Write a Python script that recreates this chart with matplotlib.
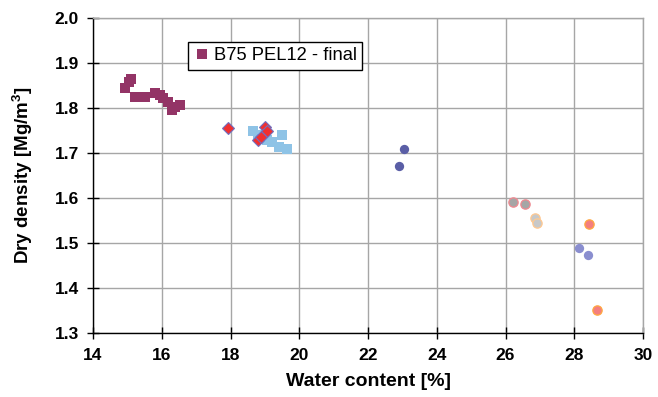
import matplotlib
matplotlib.use("Agg")
import matplotlib.pyplot as plt

plt.rcParams['font.family'] = ['Liberation Sans', 'DejaVu Sans']
plt.rcParams['mathtext.fontset'] = 'custom'
plt.rcParams['mathtext.rm'] = 'Liberation Sans'
plt.rcParams['mathtext.bf'] = 'Liberation Sans:bold'

# B75 PEL12 - final (purple squares)
final_w = [14.93, 15.10, 15.05, 15.22, 15.51, 15.80, 15.95, 16.05, 16.19, 16.39, 16.29, 16.53]
final_d = [1.844, 1.864, 1.858, 1.824, 1.824, 1.834, 1.830, 1.822, 1.814, 1.803, 1.796, 1.807]

# light blue squares
lb_w = [18.65, 18.80, 19.05, 19.20, 19.40, 19.50, 19.65]
lb_d = [1.750, 1.740, 1.730, 1.725, 1.714, 1.740, 1.710]

# red diamonds
red_w = [17.92, 19.00, 19.05, 18.80, 18.90]
red_d = [1.755, 1.757, 1.748, 1.729, 1.735]

# dark blue circles
db_w = [23.06, 22.91]
db_d = [1.710, 1.671]

# grey circles (pink edge)
gr_w = [26.23, 26.57]
gr_d = [1.590, 1.586]

# light grey circles (orange edge)
lg_w = [26.86, 26.91]
lg_d = [1.556, 1.545]

# salmon circles
sa_w = [28.43, 28.65]
sa_d = [1.542, 1.350]

# lavender circles
lv_w = [28.15, 28.41]
lv_d = [1.488, 1.473]

x_ticks = [14, 16, 18, 20, 22, 24, 26, 28, 30]
y_ticks = [1.3, 1.4, 1.5, 1.6, 1.7, 1.8, 1.9, 2.0]

fig = plt.figure(figsize=(6.58, 3.97), dpi=100)
ax = fig.add_axes([93/658, 64/397, 550/658, 315/397])

ax.plot(lb_w, lb_d, 's', color='#8EC3E6', markersize=7.2, markeredgewidth=0, label='_nolegend_', zorder=3)
ax.plot(red_w, red_d, 'D', color='#F03030', markeredgecolor='#7070C0', markeredgewidth=0.8, markersize=6.2, label='_nolegend_', zorder=4)
ax.plot(final_w, final_d, 's', color='#933466', markersize=7.7, markeredgewidth=0, label='B75 PEL12 - final', zorder=5)
ax.plot(db_w, db_d, 'o', color='#5A5EA6', markersize=6.7, markeredgewidth=0, label='_nolegend_', zorder=3)
ax.plot(gr_w, gr_d, 'o', color='#A6A6A6', markeredgecolor='#F08890', markeredgewidth=0.9, markersize=6.7, label='_nolegend_', zorder=3)
ax.plot(lg_w, lg_d, 'o', color='#C8C8C8', markeredgecolor='#FFC890', markeredgewidth=0.9, markersize=6.7, label='_nolegend_', zorder=3)
ax.plot(sa_w, sa_d, 'o', color='#F47E7E', markeredgecolor='#FFA840', markeredgewidth=0.9, markersize=6.7, label='_nolegend_', zorder=3)
ax.plot(lv_w, lv_d, 'o', color='#8A8ECF', markeredgewidth=0, markersize=6.7, label='_nolegend_', zorder=3)

ax.set_xlim(14, 30)
ax.set_ylim(1.3, 2.0)
ax.set_xticks(x_ticks)
ax.set_yticks(y_ticks)
ax.set_xticklabels([str(t) for t in x_ticks])
ax.set_yticklabels([f'{t:.1f}' for t in y_ticks])
ax.grid(True, color='#A6A6A6', linewidth=1)
ax.set_axisbelow(True)

for s in ['top', 'right']:
    ax.spines[s].set_color('#A6A6A6')
    ax.spines[s].set_linewidth(1)
for s in ['left', 'bottom']:
    ax.spines[s].set_color('black')
    ax.spines[s].set_linewidth(1)

ax.tick_params(direction='inout', length=8, width=1, labelsize=12.5)
ax.tick_params(axis='x', pad=7)
ax.tick_params(axis='y', pad=6)
for lab in ax.get_xticklabels() + ax.get_yticklabels():
    lab.set_fontweight('bold')

ax.set_xlabel('Water content [%]', fontsize=14, fontweight='bold', labelpad=7)
ax.set_ylabel(r'Dry density [Mg/m$^{\mathbf{3}}$]', fontsize=13.5, fontweight='bold', labelpad=14)

leg = ax.legend(loc='upper left', bbox_to_anchor=(0.173, 0.924), borderaxespad=0,
                fancybox=False, framealpha=1, edgecolor='black', fontsize=13.2,
                handletextpad=0.2, handlelength=0.9, borderpad=0.3, markerscale=0.9)
leg.get_frame().set_linewidth(1)

fig.savefig('out.png', dpi=100)
